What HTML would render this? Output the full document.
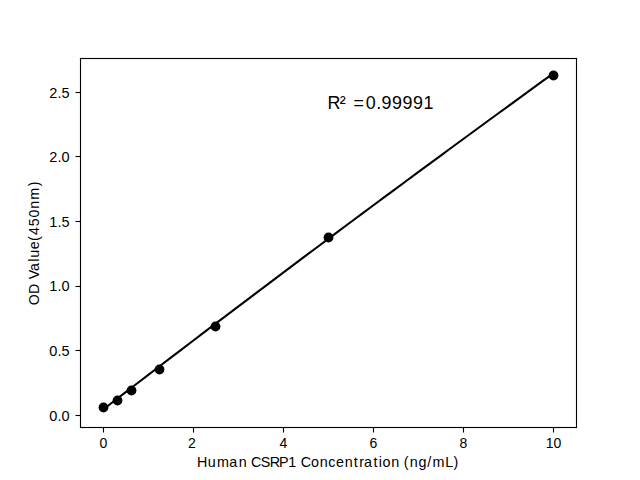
<!DOCTYPE html>
<html><head><meta charset="utf-8">
<style>
html,body{margin:0;padding:0;background:#fff;width:640px;height:480px;overflow:hidden}
svg{display:block}
text{font-family:"Liberation Sans",sans-serif;fill:#000}
</style></head>
<body>
<svg width="640" height="480" viewBox="0 0 640 480">
<rect x="0" y="0" width="640" height="480" fill="#fff"/>
<!-- data line -->
<polyline fill="none" stroke="#000" stroke-width="2.08" stroke-linejoin="round" stroke-linecap="butt"
 points="102.55,409.97 113.82,401.30 125.09,392.65 136.36,384.01 147.64,375.38 158.91,366.77 170.18,358.17 181.45,349.58 192.73,341.00 204.00,332.44 215.27,323.89 226.55,315.35 237.82,306.83 249.09,298.31 260.36,289.81 271.64,281.33 282.91,272.85 294.18,264.39 305.45,255.94 316.73,247.51 328.00,239.08 339.27,230.67 350.55,222.27 361.82,213.89 373.09,205.52 384.36,197.16 395.64,188.81 406.91,180.48 418.18,172.15 429.45,163.84 440.73,155.55 452.00,147.26 463.27,138.99 474.55,130.74 485.82,122.49 497.09,114.26 508.36,106.04 519.64,97.83 530.91,89.64 542.18,81.45 553.46,73.29"/>
<g fill="#000">
<circle cx="103.5" cy="407.5" r="4.9"/>
<circle cx="117.5" cy="400.5" r="4.9"/>
<circle cx="131.5" cy="390.5" r="4.9"/>
<circle cx="159.5" cy="369.5" r="4.9"/>
<circle cx="215.5" cy="326.5" r="4.9"/>
<circle cx="328.5" cy="237.5" r="4.9"/>
<circle cx="553.5" cy="75.5" r="4.9"/>
</g>
<!-- spines & ticks -->
<g fill="#000">
<rect x="79.945" y="57.945" width="1.110" height="370.110"/>
<rect x="575.945" y="57.945" width="1.110" height="370.110"/>
<rect x="79.945" y="57.945" width="497.110" height="1.110"/>
<rect x="79.945" y="426.945" width="497.110" height="1.110"/>
<rect x="75.500" y="414.945" width="5.000" height="1.110"/>
<rect x="75.500" y="349.945" width="5.000" height="1.110"/>
<rect x="75.500" y="285.945" width="5.000" height="1.110"/>
<rect x="75.500" y="220.945" width="5.000" height="1.110"/>
<rect x="75.500" y="155.945" width="5.000" height="1.110"/>
<rect x="75.500" y="91.945" width="5.000" height="1.110"/>
<rect x="102.945" y="427.500" width="1.110" height="5.000"/>
<rect x="192.945" y="427.500" width="1.110" height="5.000"/>
<rect x="282.945" y="427.500" width="1.110" height="5.000"/>
<rect x="372.945" y="427.500" width="1.110" height="5.000"/>
<rect x="462.945" y="427.500" width="1.110" height="5.000"/>
<rect x="552.945" y="427.500" width="1.110" height="5.000"/>
</g>
<!--TEXT-->
<text x="69.5" y="421" font-size="14.5" text-anchor="end">0.0</text>
<text x="69.5" y="356" font-size="14.5" text-anchor="end">0.5</text>
<text x="69.5" y="291" font-size="14.5" text-anchor="end">1.0</text>
<text x="69.5" y="227" font-size="14.5" text-anchor="end">1.5</text>
<text x="69.5" y="162" font-size="14.5" text-anchor="end">2.0</text>
<text x="69.5" y="98" font-size="14.5" text-anchor="end">2.5</text>
<text x="103.5" y="448" font-size="14" text-anchor="middle">0</text>
<text x="192" y="448" font-size="14" text-anchor="middle">2</text>
<text x="283.5" y="448" font-size="14" text-anchor="middle">4</text>
<text x="373.5" y="448" font-size="14" text-anchor="middle">6</text>
<text x="463.5" y="448" font-size="14" text-anchor="middle">8</text>
<text x="553.5" y="448" font-size="14" text-anchor="middle">10</text>
<text transform="translate(196.97,467.00) scale(1.0235,1)" x="0.04 10.51 19.50 31.64 40.74 48.53 52.74 62.37 71.08 80.26 89.14 96.93 101.34 111.53 120.01 128.19 135.88 144.31 153.10 158.52 163.17 172.52 177.55 181.26 189.74 197.53 202.09 207.94 216.38 225.07 230.06 242.61 250.68" y="0" font-size="14">Human CSRP1 Concentration (ng/mL)</text>
<text transform="translate(39.00,305.15) rotate(-90) scale(1.0138,1)" x="-0.05 10.98 21.09 25.66 33.70 42.76 46.66 55.22 63.24 69.14 77.72 86.40 95.05 104.08 117.22" y="0" font-size="14">OD Value(450nm)</text>
<text transform="translate(328.00,109.00) scale(1.0001,1)" x="-0.41 11.83 17.79 25.38 37.82 48.15 53.51 64.01 74.51 85.01 95.47" y="0" font-size="17.9">R² =0.99991</text>
<!--/TEXT-->
</svg>
</body></html>
